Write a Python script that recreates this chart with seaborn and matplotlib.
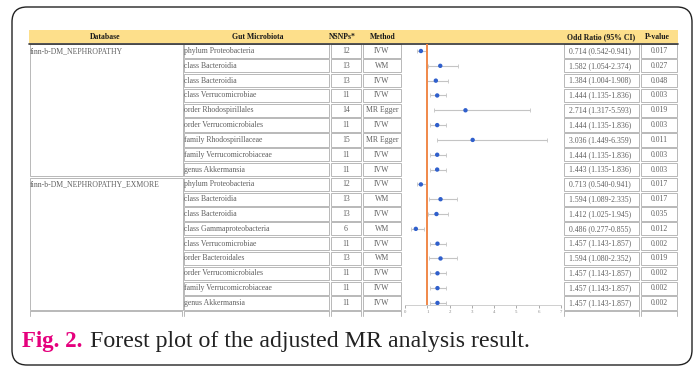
import numpy as np
import pandas as pd
import matplotlib.pyplot as plt
from matplotlib.patches import FancyBboxPatch, Rectangle
import seaborn as sns

# DATA
database = ["finn-b-DM_NEPHROPATHY", "finn-b-DM_NEPHROPATHY_EXMORE"]
group_size = [9, 9]
taxa = ["phylum Proteobacteria", "class Bacteroidia", "class Bacteroidia",
        "class Verrucomicrobiae", "order Rhodospirillales", "order Verrucomicrobiales",
        "family Rhodospirillaceae", "family Verrucomicrobiaceae", "genus Akkermansia",
        "phylum Proteobacteria", "class Bacteroidia", "class Bacteroidia",
        "class Gammaproteobacteria", "class Verrucomicrobiae", "order Bacteroidales",
        "order Verrucomicrobiales", "family Verrucomicrobiaceae", "genus Akkermansia"]
nsnps = [12, 13, 13, 11, 14, 11, 15, 11, 11,
         12, 13, 13, 6, 11, 13, 11, 11, 11]
method = ["IVW", "WM", "IVW", "IVW", "MR Egger", "IVW", "MR Egger", "IVW", "IVW",
          "IVW", "WM", "IVW", "WM", "IVW", "WM", "IVW", "IVW", "IVW"]
odds = [0.714, 1.582, 1.384, 1.444, 2.714, 1.444, 3.036, 1.444, 1.443,
        0.713, 1.594, 1.412, 0.486, 1.457, 1.594, 1.457, 1.457, 1.457]
ci_low = [0.542, 1.054, 1.004, 1.135, 1.317, 1.135, 1.449, 1.135, 1.135,
          0.540, 1.089, 1.025, 0.277, 1.143, 1.080, 1.143, 1.143, 1.143]
ci_high = [0.941, 2.374, 1.908, 1.836, 5.593, 1.836, 6.359, 1.836, 1.836,
           0.941, 2.335, 1.945, 0.855, 1.857, 2.352, 1.857, 1.857, 1.857]
pvals = ["0.017", "0.027", "0.048", "0.003", "0.019", "0.003", "0.011", "0.003", "0.003",
         "0.017", "0.017", "0.035", "0.012", "0.002", "0.019", "0.002", "0.002", "0.002"]
headers = ["Database", "Gut Microbiota", "NSNPs*", "Method", "Odd Ratio (95% CI)", "P-value"]
xticks = [0, 1, 2, 3, 4, 5, 6, 7]

df = pd.DataFrame({"row": np.arange(len(taxa)), "taxa": taxa, "nsnps": nsnps,
                   "method": method, "odds": odds, "lo": ci_low, "hi": ci_high, "p": pvals})

sns.set_style("white")
plt.rcParams['font.family'] = ['Liberation Serif', 'DejaVu Serif']

W, H = 697, 367
fig = plt.figure(figsize=(W / 100, H / 100), dpi=100)
bg = fig.add_axes([0, 0, 1, 1])
bg.set_xlim(0, W)
bg.set_ylim(H, 0)
bg.axis('off')

# layout in pixels
ROW0, ROWH = 51, 14.82
def ry(i):
    return ROW0 + ROWH * i

cx = {"db": (29, 183), "gut": (183, 330), "n": (330, 362), "m": (362, 402),
      "plot": (402, 563), "or": (563, 640), "p": (640, 678)}
EDGE = '#b8b8b8'
TXT = '#606060'
FS = 5.6

# outer frame
bg.add_patch(FancyBboxPatch((12, 7), 680, 358, boxstyle="round,pad=0,rounding_size=15",
                            fc='white', ec='#222222', lw=1.0))

# header
bg.add_patch(Rectangle((29, 30), 649, 13, fc='#FDDF8B', ec='none'))
bg.plot([29, 678], [43.5, 43.5], color='#333333', lw=1.2)
hx = [105, 258, 342, 383, 601, 657]
for t, x in zip(headers, hx):
    bg.text(x, 36.8, t, ha='center', va='center', fontsize=FS, fontweight='bold', color='#1a1a1a')

# database cells
start = 0
for name, n in zip(database, group_size):
    top, bot = ry(start) - ROWH / 2, ry(start + n - 1) + ROWH / 2
    bg.add_patch(Rectangle((cx["db"][0] + 0.5, top + 0.8), cx["db"][1] - cx["db"][0] - 1,
                           bot - top - 1.6, fc='none', ec=EDGE, lw=0.7))
    bg.text(30, ry(start), name, ha='left', va='center', fontsize=FS, color=TXT)
    start += n

# row cells
for _, r in df.iterrows():
    y = ry(r.row)
    for key in ["gut", "n", "m", "or", "p"]:
        x0, x1 = cx[key]
        bg.add_patch(Rectangle((x0 + 0.8, y - ROWH / 2 + 0.8), x1 - x0 - 1.6, ROWH - 1.6,
                               fc='none', ec=EDGE, lw=0.7))
    bg.text(184, y, r.taxa, ha='left', va='center', fontsize=FS, color=TXT)
    bg.text(346, y, str(r.nsnps), ha='center', va='center', fontsize=FS, color=TXT)
    bg.text(382, y, r.method, ha='center', va='center', fontsize=FS, color=TXT)
    bg.text(600, y, f"{r.odds:.3f} ({r.lo:.3f}-{r.hi:.3f})", ha='center', va='center',
            fontsize=FS, color=TXT)
    bg.text(659, y, r.p, ha='center', va='center', fontsize=FS, color=TXT)

# start of the next (cut) row
ytop = ry(len(taxa)) - ROWH / 2 + 0.8
for key in ["db", "gut", "n", "m", "or", "p"]:
    x0, x1 = cx[key]
    bg.plot([x0 + 0.8, x1 - 0.8], [ytop, ytop], color=EDGE, lw=0.7)
    bg.plot([x0 + 0.8, x0 + 0.8], [ytop, 316], color=EDGE, lw=0.7)
    bg.plot([x1 - 0.8, x1 - 0.8], [ytop, 316], color=EDGE, lw=0.7)

# forest plot
ax = fig.add_axes([405 / W, 1 - 305 / H, (561 - 405) / W, (305 - 44) / H])
ax.patch.set_alpha(0)
ax.errorbar(df.odds, df.row, xerr=[df.odds - df.lo, df.hi - df.odds], fmt='none',
            ecolor='#c4c4c4', elinewidth=0.8, capsize=1.3, capthick=0.6, zorder=1)
ax.axvline(1, color='#F0884A', lw=1.4, zorder=2)
sns.scatterplot(data=df, x="odds", y="row", ax=ax, color='#2f5fcc', s=10,
                edgecolor='none', zorder=3)
ax.set_xlim(0, 7)
ax.set_ylim((305 - ROW0) / ROWH, (44 - ROW0) / ROWH)
ax.set_xlabel('')
ax.set_ylabel('')
ax.set_yticks([])
ax.set_xticks(xticks)
ax.tick_params(axis='x', labelsize=3.5, colors='#888888', length=2, width=0.5, pad=1.5,
               bottom=True)
for s in ['top', 'left', 'right']:
    ax.spines[s].set_visible(False)
ax.spines['bottom'].set_color('#c8c8c8')
ax.spines['bottom'].set_linewidth(0.6)

# caption
cap = bg.text(22, 347, "Fig. 2.", color='#E5007D', fontsize=16.5, fontweight='bold',
              va='baseline')
fig.canvas.draw()
x_end = cap.get_window_extent(fig.canvas.get_renderer()).x1
bg.text(x_end + 8, 347, "Forest plot of the adjusted MR analysis result.", color='#222222',
        fontsize=17.2, va='baseline')

fig.savefig("out.png", dpi=100)
